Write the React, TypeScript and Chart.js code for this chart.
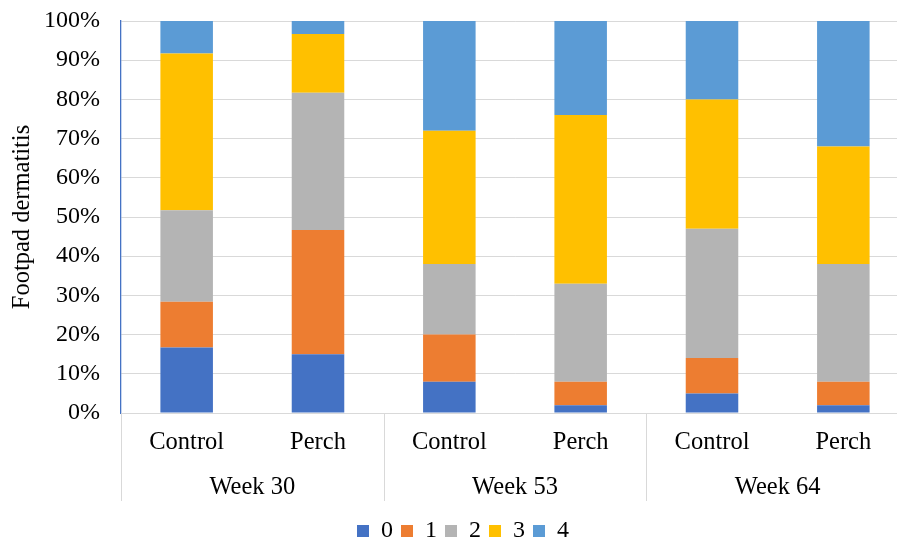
import { useEffect, useRef } from "react";
import { Chart, registerables } from "chart.js";

Chart.register(...registerables);

// ---- data ----
const groups = ["Week 30", "Week 53", "Week 64"];
const treatments = ["Control", "Perch", "Control", "Perch", "Control", "Perch"];
const scoreLabels = ["0", "1", "2", "3", "4"];
const score0 = [16.7, 15, 8, 2, 5, 2];
const score1 = [11.7, 31.7, 12, 6, 9, 6];
const score2 = [23.3, 35, 18, 25, 33, 30];
const score3 = [40, 15, 34, 43, 33, 30];
const score4 = [8.3, 3.3, 28, 24, 20, 32];
const yAxisTitle = "Footpad dermatitis";

const seriesValues = [score0, score1, score2, score3, score4];
const colors = ["#4472C4", "#ED7D31", "#B4B4B4", "#FFC000", "#5B9BD5"];

const FONT = "'Liberation Serif', 'Times New Roman', serif";

const groupAxisPlugin = {
  id: "groupAxis",
  afterDraw(chart: any) {
    const x = chart.scales.x;
    const ctx = chart.ctx;
    const n = chart.data.labels.length;
    const per = n / groups.length;
    const half = (x.getPixelForValue(1) - x.getPixelForValue(0)) / 2;
    const top = chart.chartArea.bottom;
    const bottom = top + 88;
    ctx.save();
    ctx.strokeStyle = "#D9D9D9";
    ctx.lineWidth = 1;
    for (let g = 0; g <= groups.length; g++) {
      const xi =
        g < groups.length
          ? x.getPixelForValue(g * per) - half
          : x.getPixelForValue(n - 1) + half;
      const px = Math.round(xi) + 0.5;
      ctx.beginPath();
      ctx.moveTo(px, top);
      ctx.lineTo(px, bottom);
      ctx.stroke();
    }
    ctx.fillStyle = "#000";
    ctx.font = `24.5px ${FONT}`;
    ctx.textAlign = "center";
    ctx.textBaseline = "middle";
    groups.forEach((label, i) => {
      const cx =
        (x.getPixelForValue(i * per) + x.getPixelForValue(i * per + per - 1)) / 2;
      ctx.fillText(label, cx, top + 75);
    });
    ctx.restore();
  },
};

export default function App() {
  const ref = useRef<HTMLCanvasElement | null>(null);

  useEffect(() => {
    if (!ref.current) return;
    const chart = new Chart(ref.current, {
      type: "bar",
      data: {
        labels: treatments,
        datasets: seriesValues.map((vals, i) => ({
          label: scoreLabels[i],
          data: vals,
          backgroundColor: colors[i],
          borderWidth: 0,
          barPercentage: 0.4,
          categoryPercentage: 1.0,
        })),
      },
      options: {
        animation: false,
        responsive: true,
        maintainAspectRatio: false,
        layout: { padding: { top: 21, left: 0, right: 0, bottom: 0 } },
        plugins: {
          tooltip: { enabled: false },
          legend: {
            position: "bottom",
            labels: {
              color: "#000",
              font: { family: FONT, size: 24 },
              boxWidth: 12,
              boxHeight: 12,
              padding: 8,
            },
          },
        },
        scales: {
          x: {
            stacked: true,
            grid: { display: false, drawTicks: false },
            border: { display: true, color: "#D9D9D9", width: 1 },
            ticks: {
              color: "#000",
              font: { family: FONT, size: 24.5 },
              padding: 15,
              maxRotation: 0,
              autoSkip: false,
            },
            afterFit: (s: any) => {
              s.height = 98;
            },
          },
          y: {
            stacked: true,
            min: 0,
            max: 100,
            ticks: {
              stepSize: 10,
              color: "#000",
              font: { family: FONT, size: 24 },
              padding: 0,
              callback: (v: any) => `${v}%`,
            },
            grid: {
              color: "#D9D9D9",
              lineWidth: 1,
              drawTicks: true,
              tickLength: 21,
              tickColor: "rgba(0,0,0,0)",
            },
            border: { display: true, color: "#4472C4", width: 1.3 },
            title: {
              display: true,
              text: yAxisTitle,
              color: "#000",
              font: { family: FONT, size: 24.5 },
              padding: { top: 8, bottom: 0 },
            },
            afterFit: (s: any) => {
              s.width = 121;
            },
          },
          y2: {
            display: true,
            position: "right",
            grid: { display: false, drawTicks: false },
            border: { display: false },
            ticks: { display: false },
            afterFit: (s: any) => {
              s.width = 17;
            },
          },
        },
      },
      plugins: [groupAxisPlugin],
    } as any);
    return () => chart.destroy();
  }, []);

  return (
    <div
      style={{
        position: "fixed",
        left: 0,
        top: 0,
        width: 897,
        height: 542,
        overflow: "hidden",
        background: "#fff",
      }}
    >
      <div style={{ position: "absolute", left: 0, top: 0, width: 926, height: 553 }}>
        <canvas ref={ref} />
      </div>
    </div>
  );
}
